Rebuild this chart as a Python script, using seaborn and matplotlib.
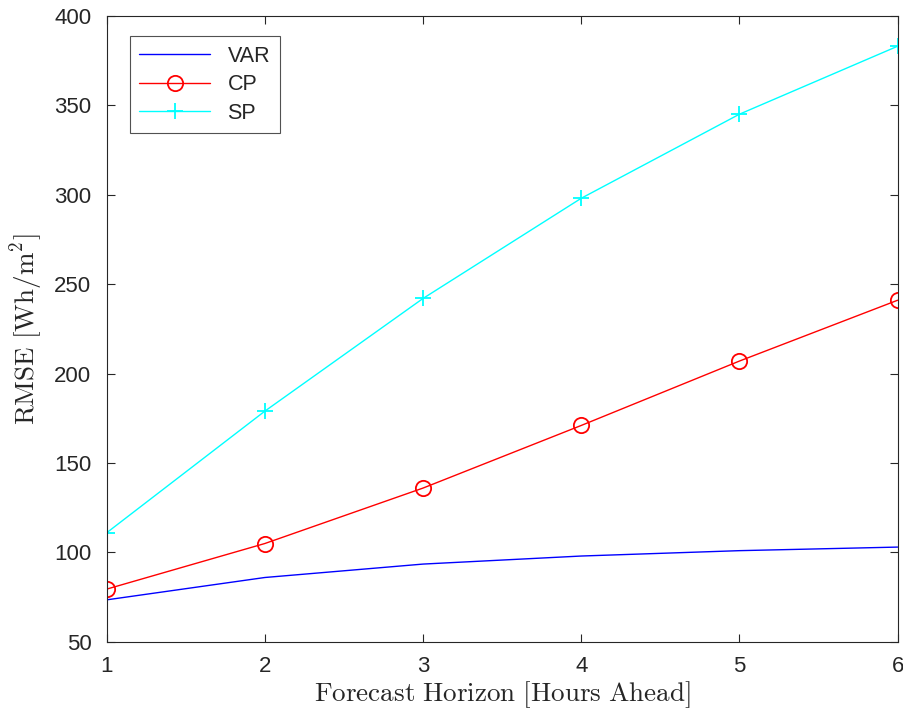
import matplotlib
matplotlib.use("Agg")
import matplotlib.pyplot as plt
import pandas as pd
import seaborn as sns

# forecast horizon (hours ahead) and RMSE per model [Wh/m^2]
horizon = [1, 2, 3, 4, 5, 6]
rmse_var = [73.5, 86, 93.5, 98, 101, 103]
rmse_cp = [79.5, 105, 136, 171, 207, 241]
rmse_sp = [111, 179, 242, 298, 345, 383]

series = [
    ("VAR", rmse_var, "#0000ff", None),
    ("CP", rmse_cp, "#ff0000", "o"),
    ("SP", rmse_sp, "#00ffff", "+"),
]

sns.set_theme(style="ticks")
plt.rcParams["font.family"] = ["Liberation Sans", "DejaVu Sans"]
plt.rcParams["mathtext.fontset"] = "cm"

fig = plt.figure(figsize=(9.04, 7.18), dpi=100)
ax = fig.add_axes([0.118, 0.106, 0.875, 0.872])

for name, values, color, marker in series:
    df = pd.DataFrame({"horizon": horizon, "rmse": values})
    sns.lineplot(
        data=df,
        x="horizon",
        y="rmse",
        ax=ax,
        color=color,
        linewidth=1.0,
        marker=marker,
        markersize=11,
        markeredgewidth=1.3,
        markerfacecolor="none" if marker == "o" else color,
        markeredgecolor=color,
        label=name,
    )

ax.set_xlim(1, 6)
ax.set_ylim(50, 400)
ax.set_xticks(horizon)
ax.set_yticks(range(50, 401, 50))
ax.tick_params(direction="in", length=6, width=0.8, labelsize=16, colors="#262626",
               top=True, right=True)
ax.tick_params(axis="y", pad=11)
ax.tick_params(axis="x", pad=10)
for side in ax.spines.values():
    side.set_linewidth(0.8)
    side.set_color("#262626")

ax.set_xlabel(r"$\mathrm{Forecast\ Horizon\ [Hours\ Ahead]}$", fontsize=19.5, labelpad=2)
ax.set_ylabel(r"$\mathrm{RMSE\ [Wh/m^2]}$", fontsize=19.5, labelpad=6)

leg = ax.legend(loc="upper left", bbox_to_anchor=(0.029, 0.968), borderaxespad=0,
                fontsize=15.5, frameon=True, fancybox=False, edgecolor="#262626",
                handlelength=3.3, borderpad=0.45, labelspacing=0.35)
leg.get_frame().set_linewidth(0.8)

fig.savefig("out.png", dpi=100)
